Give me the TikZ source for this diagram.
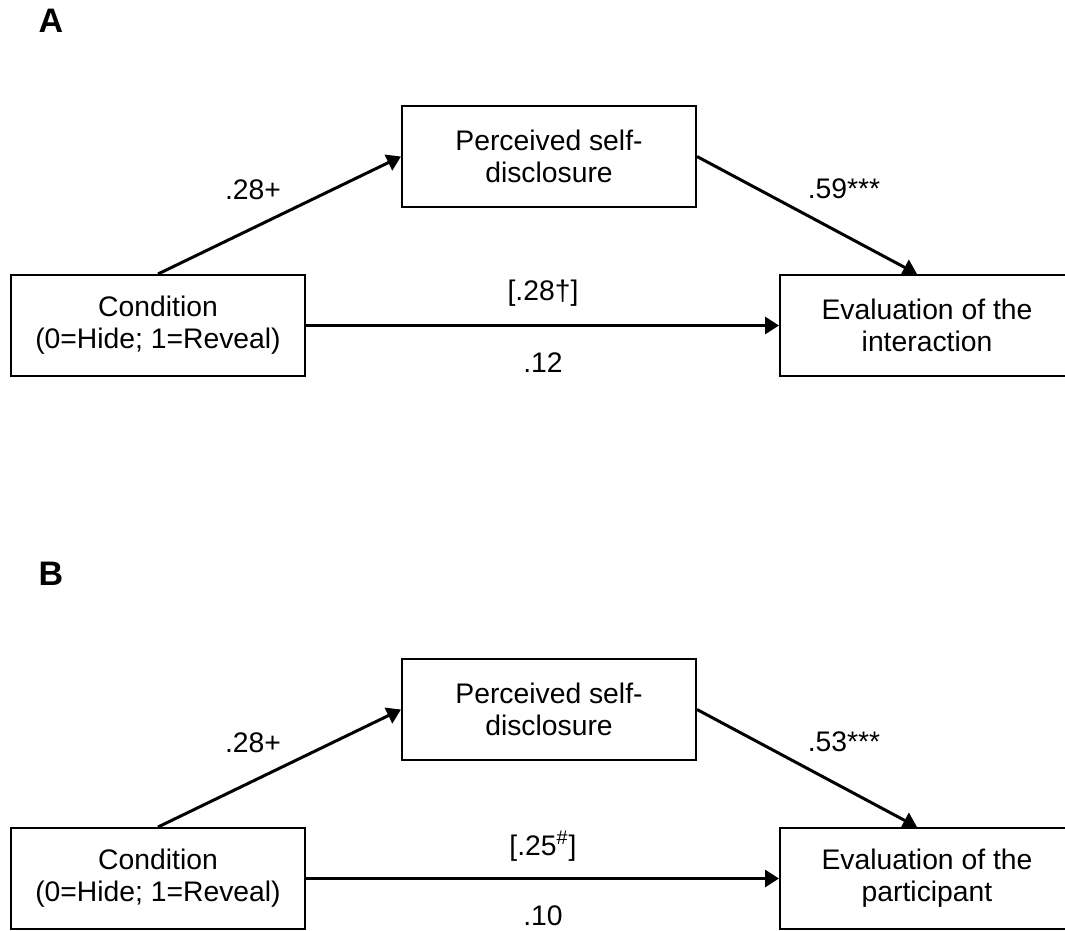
\documentclass[tikz,border=0pt]{standalone}
\usepackage{fontspec}
\setmainfont{Liberation Sans}
\usetikzlibrary{arrows.meta}
\begin{document}
\begin{tikzpicture}[x=0.5pt,y=-0.5pt,
  box/.style={draw, line width=1pt, minimum width=147pt, minimum height=50.5pt,
    inner sep=0pt, align=center, font=\fontsize{14.15}{16}\selectfont},
  lbl/.style={inner sep=0pt, font=\fontsize{14.15}{16}\selectfont},
  conn/.style={line width=1.5pt, -{Triangle[length=7pt,width=8.5pt]}},
  panel/.style={inner sep=0pt, font=\fontsize{17}{19}\selectfont\bfseries}]
\useasboundingbox (0,0) rectangle (1065,931);
\begin{scope}
\clip (0,0) rectangle (1065,931);
% Panel A
\node[panel] (pA) at (51,21) {A};
\node[box] (M1) at (549,156.5) {Perceived self-\\disclosure};
\node[box] (C1) at (158,325.5) {Condition\\(0=Hide; 1=Reveal)};
\node[box] (E1) at (927,325.5) {Evaluation of the\\interaction};
\coordinate (E1t) at ([xshift=-5pt]E1.north);
\draw[conn] (C1.north) -- (M1.west);
\draw[conn] (M1.east) -- (E1t);
\draw[conn] (C1.east) -- (E1.west);
\node[lbl] (a1) at (253,190) {.28+};
\node[lbl] (b1) at (844,189) {.59***};
\node[lbl] (c1) at (543,293) {[.28†]};
\node[lbl] (d1) at (543,363) {.12};
% Panel B
\node[panel] (pB) at (51,574) {B};
\node[box] (M2) at (549,709.5) {Perceived self-\\disclosure};
\node[box] (C2) at (158,878.5) {Condition\\(0=Hide; 1=Reveal)};
\node[box] (E2) at (927,878.5) {Evaluation of the\\participant};
\coordinate (E2t) at ([xshift=-5pt]E2.north);
\draw[conn] (C2.north) -- (M2.west);
\draw[conn] (M2.east) -- (E2t);
\draw[conn] (C2.east) -- (E2.west);
\node[lbl] (a2) at (253,743) {.28+};
\node[lbl] (b2) at (844,742) {.53***};
\node[lbl] (c2) at (543,846) {[.25\textsuperscript{\#}]};
\node[lbl] (d2) at (543,916) {.10};
\end{scope}
\end{tikzpicture}
\end{document}
